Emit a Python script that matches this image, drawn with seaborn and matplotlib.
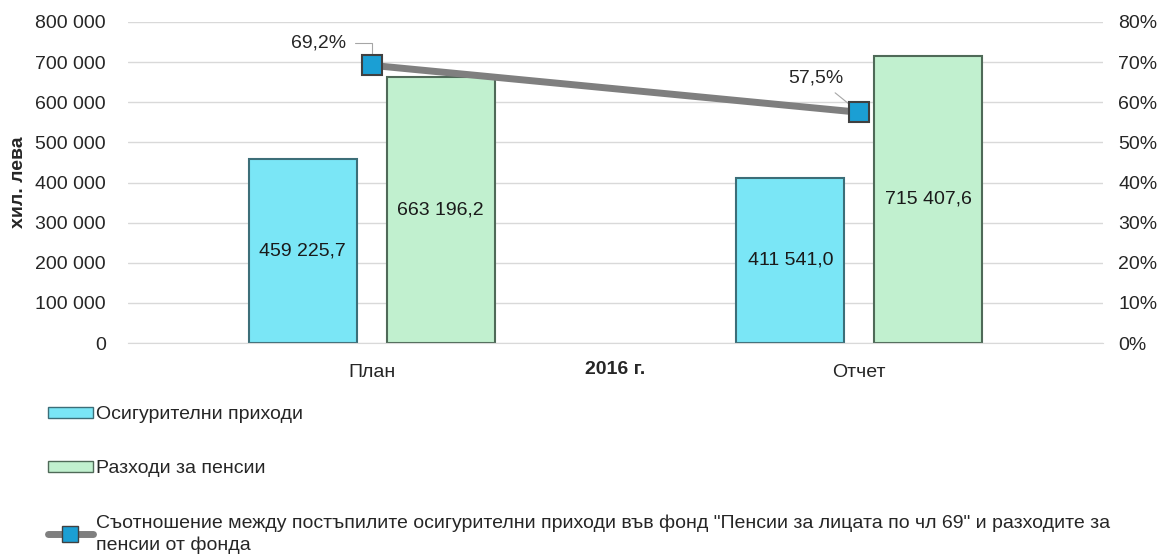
import numpy as np
import pandas as pd
import matplotlib
matplotlib.use('Agg')
import matplotlib.pyplot as plt
import seaborn as sns
from matplotlib.ticker import FuncFormatter, MultipleLocator
from matplotlib.lines import Line2D
from matplotlib.patches import Patch

# ==============================
# DATA
# ==============================
categories = ['План', 'Отчет']
series_names = ['Осигурителни приходи', 'Разходи за пенсии']
income = [459225.7, 411541.0]
pensions = [663196.2, 715407.6]
ratio = [0.692, 0.575]
ratio_name = ('Съотношение между постъпилите осигурителни приходи във фонд '
              '"Пенсии за лицата по чл 69" и разходите за\nпенсии от фонда')

colors = ['#7ae6f6', '#c1f0cf']
edges = ['#3c6e78', '#4f6a58']

df = pd.DataFrame({
    'cat': categories * 2,
    'series': [series_names[0]] * 2 + [series_names[1]] * 2,
    'value': income + pensions,
})

# ==============================
# STYLE
# ==============================
sns.set_style('white')
plt.rcParams['font.family'] = ['Liberation Sans Narrow', 'Liberation Sans', 'DejaVu Sans']
plt.rcParams['font.size'] = 14

fig = plt.figure(figsize=(11.66, 5.57), dpi=100)
ax = fig.add_axes([128 / 1166, 1 - 343 / 557, 975 / 1166, 321 / 557])

sns.barplot(data=df, x='cat', y='value', hue='series', palette=colors,
            saturation=1, width=0.566, gap=0.217, ax=ax, legend=False, zorder=2)

for cont, ec in zip(ax.containers, edges):
    for p in cont:
        p.set_edgecolor(ec)
        p.set_linewidth(1.5)
    ax.bar_label(cont, label_type='center', fontsize=14, color='#1a1a1a',
                 labels=[f'{v:,.1f}'.replace(',', ' ').replace('.', ',') for v in cont.datavalues])

ax.set_ylim(0, 800000)
ax.set_xlim(-0.5, 1.5)
ax.yaxis.set_major_locator(MultipleLocator(100000))
ax.yaxis.set_major_formatter(FuncFormatter(lambda v, p: f'{v:,.0f}'.replace(',', ' ')))
ax.grid(axis='y', color='#d9d9d9', linewidth=1)
ax.set_axisbelow(True)
ax.tick_params(axis='y', length=0, labelsize=14, colors='#262626', pad=16)
ax.tick_params(axis='x', length=0, labelsize=14, colors='#262626', pad=15)
sns.despine(ax=ax, left=True, bottom=True)
ax.spines['bottom'].set_visible(True)
ax.spines['bottom'].set_color('#d9d9d9')
ax.set_xlabel('2016 г.', fontsize=14, fontweight='bold', labelpad=-14)
ax.set_ylabel('хил. лева', fontsize=14, fontweight='bold', labelpad=6)

# secondary axis
ax2 = ax.twinx()
sns.lineplot(x=[0, 1], y=ratio, ax=ax2, color='#7f7f7f', linewidth=5,
             marker='s', markersize=14, markerfacecolor='#1b9fd4',
             markeredgecolor='#404040', markeredgewidth=1.5, zorder=5)
ax2.set_ylim(0, 0.8)
ax2.yaxis.set_major_locator(MultipleLocator(0.1))
ax2.yaxis.set_major_formatter(FuncFormatter(lambda v, p: f'{v:.0%}'))
ax2.tick_params(axis='y', length=0, labelsize=14, colors='#262626', pad=11)
sns.despine(ax=ax2, left=True, bottom=True, right=True)
ax2.set_ylabel('')

offsets = [(-38, 16), (-31, 25)]
styles = ['angle,angleA=0,angleB=90,rad=0', 'arc3']
for i, (r, off, cs) in enumerate(zip(ratio, offsets, styles)):
    ax2.annotate(f'{r * 100:.1f}%'.replace('.', ','), xy=(i, r), xytext=off,
                 textcoords='offset points', fontsize=14, color='#262626',
                 ha='center', va='center',
                 arrowprops=dict(arrowstyle='-', color='#a6a6a6', lw=0.8,
                                 shrinkA=4, shrinkB=5, connectionstyle=cs))

# legend
handles = [Patch(facecolor=colors[0], edgecolor=edges[0]),
           Patch(facecolor=colors[1], edgecolor=edges[1]),
           Line2D([], [], color='#7f7f7f', linewidth=5, marker='s', markersize=11,
                  markerfacecolor='#1b9fd4', markeredgecolor='#404040')]
leg = fig.legend(handles, series_names + [ratio_name], loc='upper left',
                 bbox_to_anchor=(0.026, 0.302), frameon=False, fontsize=14,
                 labelspacing=1.9, handlelength=2.3, handleheight=0.45,
                 handletextpad=0.2)
for t in leg.get_texts():
    t.set_linespacing(1.35)

fig.savefig('out.png', dpi=100)
